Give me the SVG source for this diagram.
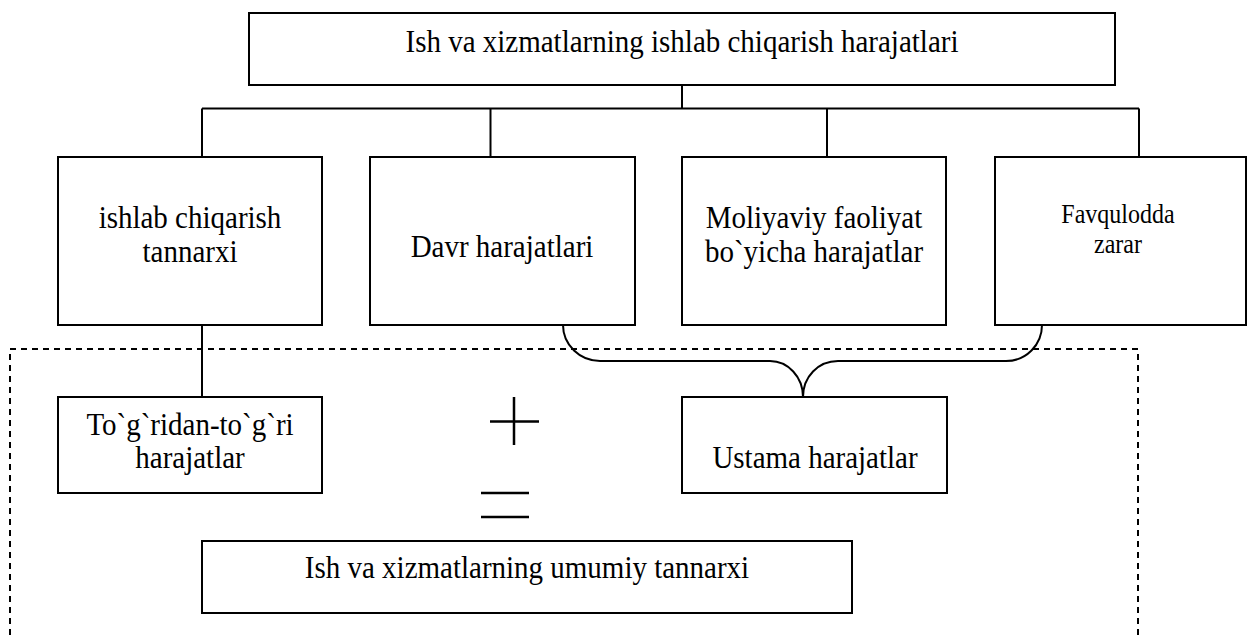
<svg xmlns="http://www.w3.org/2000/svg" width="1248" height="635" viewBox="0 0 1248 635">
  <style>
    .box { fill: #ffffff; stroke: #000000; stroke-width: 2; }
    .ln { fill: none; stroke: #000000; stroke-width: 2; }
    .dash { fill: none; stroke: #000000; stroke-width: 2; stroke-dasharray: 6 5; }
    .t { font-family: "Liberation Serif", "Times New Roman", serif; font-size: 29px; fill: #000000; text-anchor: middle; }
    .ts { font-size: 24px; }
    .sym { fill: none; stroke: #000000; stroke-width: 2.5; }
  </style>

  <rect width="1248" height="635" fill="#ffffff"/>

  <!-- dashed frame around the cost calculation -->
  <path id="frame" class="dash" d="M10,635 L10,349 L1138,349 L1138,635"/>

  <!-- connectors -->
  <g id="connectors">
    <path class="ln" d="M682,85 L682,108.5"/>
    <path class="ln" d="M202,108.5 L1139,108.5"/>
    <path class="ln" d="M202,108.5 L202,157"/>
    <path class="ln" d="M490.5,108.5 L490.5,157"/>
    <path class="ln" d="M827,108.5 L827,157"/>
    <path class="ln" d="M1139,108.5 L1139,157"/>
    <path class="ln" d="M202,325 L202,397"/>
    <!-- brace joining the two overhead groups -->
    <path class="ln" d="M563,325 C563,345 580,361 600,361 L770,361 C788,361 803,377 803,397"/>
    <path class="ln" d="M1042,325 C1042,345 1026,361 1006,361 L838,361 C818,361 803,377 803,397"/>
  </g>

  <!-- labels are set in a slightly tall serif: scale(1,1.1) about each baseline -->
  <g id="n-top">
    <rect class="box" x="249" y="13" width="866" height="72"/>
    <text class="t" transform="translate(682,52) scale(1,1.1)">Ish va xizmatlarning ishlab chiqarish harajatlari</text>
  </g>

  <g id="n-tannarx">
    <rect class="box" x="58" y="157" width="264" height="168"/>
    <text class="t" transform="translate(190,228) scale(1,1.1)">ishlab chiqarish</text>
    <text class="t" transform="translate(190,262) scale(1,1.1)">tannarxi</text>
  </g>

  <g id="n-davr">
    <rect class="box" x="370" y="157" width="265" height="168"/>
    <text class="t" transform="translate(502,257) scale(1,1.1)">Davr harajatlari</text>
  </g>

  <g id="n-moliya">
    <rect class="box" x="682" y="157" width="264" height="168"/>
    <text class="t" transform="translate(814,228) scale(1,1.1)">Moliyaviy faoliyat</text>
    <text class="t" transform="translate(814,262) scale(1,1.1)">bo`yicha harajatlar</text>
  </g>

  <g id="n-favq">
    <rect class="box" x="995" y="157" width="251" height="168"/>
    <text class="t ts" transform="translate(1118,223) scale(1,1.1)">Favqulodda</text>
    <text class="t ts" transform="translate(1118,253) scale(1,1.1)">zarar</text>
  </g>

  <g id="n-togri">
    <rect class="box" x="58" y="397" width="264" height="96"/>
    <text class="t" transform="translate(190,435) scale(1,1.1)">To`g`ridan-to`g`ri</text>
    <text class="t" transform="translate(190,468) scale(1,1.1)">harajatlar</text>
  </g>

  <g id="n-ustama">
    <rect class="box" x="682" y="397" width="265" height="96"/>
    <text class="t" transform="translate(815,468) scale(1,1.1)">Ustama harajatlar</text>
  </g>

  <g id="n-umumiy">
    <rect class="box" x="202" y="541" width="650" height="72"/>
    <text class="t" transform="translate(527,578) scale(1,1.1)">Ish va xizmatlarning umumiy tannarxi</text>
  </g>

  <!-- plus and equals signs -->
  <g id="signs">
    <path class="sym" d="M514,397 L514,445 M490,421.5 L539,421.5"/>
    <path class="sym" stroke-width="3" d="M481,493 L529,493 M481,517 L529,517"/>
  </g>
</svg>
